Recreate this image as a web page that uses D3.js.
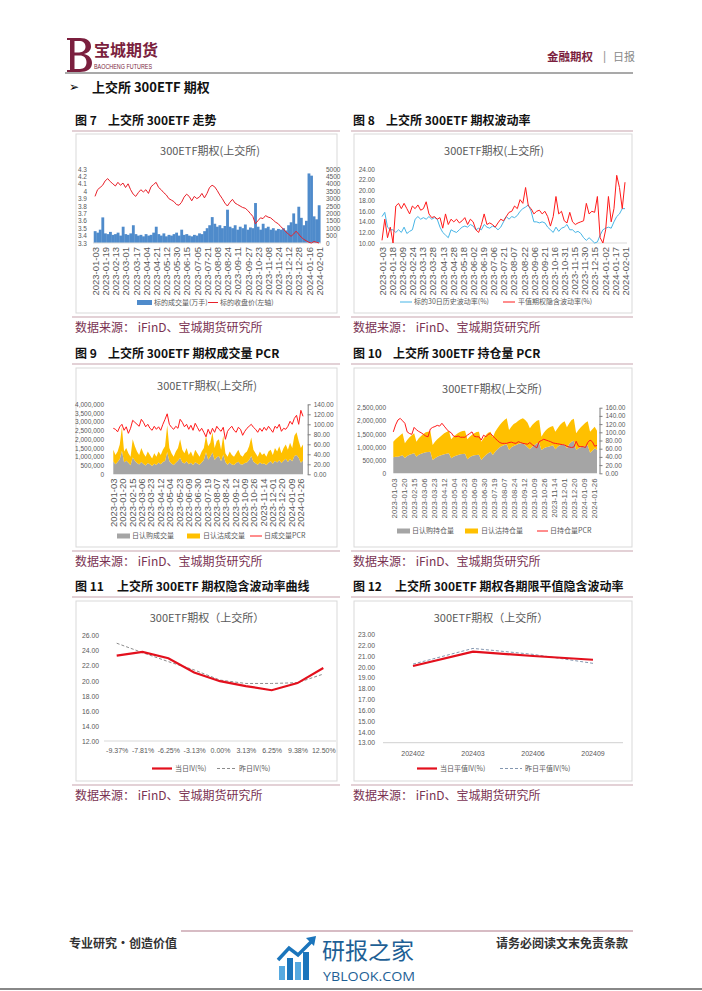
<!DOCTYPE html>
<html><head><meta charset="utf-8">
<script src="https://cdn.jsdelivr.net/npm/d3@7/dist/d3.min.js"></script>
<style>html,body{margin:0;padding:0;background:#fff}svg{display:block}</style>
</head><body>
<svg id="page" width="702" height="991"></svg>
<script>
// ---------------- DATA ----------------
const TOTAL_DAYS = 264; // trading days 2023-01-03 .. 2024-02-01 (daily series sampled every 3rd day)

// Fig 7
const c7Dates = ["2023-01-03","2023-01-19","2023-02-13","2023-03-01","2023-03-17","2023-04-04","2023-04-21","2023-05-12","2023-05-30","2023-06-15","2023-07-05","2023-07-21","2023-08-08","2023-08-24","2023-09-11","2023-09-27","2023-10-23","2023-11-08","2023-11-24","2023-12-12","2023-12-28","2024-01-16","2024-02-01"];
const c7DateStep = 12;
const c7LeftTicks = [3.3,3.4,3.5,3.6,3.7,3.8,3.9,4,4.1,4.2,4.3];
const c7RightTicks = [0,500,1000,1500,2000,2500,3000,3500,4000,4500,5000];
const c7Volume = [800,700,900,1730,650,600,750,550,600,700,
 500,1100,600,550,650,1200,600,500,550,450,
 600,500,550,700,1100,600,500,650,450,550,
 500,600,700,500,900,550,600,500,450,550,
 500,650,600,800,1000,1200,1750,1300,1100,1200,
 1000,1150,2250,1100,1000,1200,900,1100,1000,1250,
 900,1050,1000,2700,1100,900,1300,1000,1100,900,
 1000,850,950,900,1000,850,1200,1400,2000,1300,
 2450,1700,1200,1500,4700,4550,1800,1600,2550];
const c7Close = [3.93,4.02,4.05,4.08,4.14,4.17,4.13,4.10,4.07,4.12,
 4.08,4.11,4.05,4.10,4.02,3.96,3.93,3.98,4.02,3.99,
 4.02,3.97,4.06,4.09,4.12,4.05,4.02,3.98,3.95,3.90,
 3.88,3.86,3.82,3.81,3.85,3.92,3.96,3.93,3.87,3.93,
 3.90,3.92,3.97,3.91,3.97,4.05,4.08,4.06,4.01,3.95,
 3.90,3.84,3.80,3.85,3.89,3.84,3.82,3.80,3.78,3.77,
 3.74,3.70,3.66,3.56,3.60,3.64,3.63,3.67,3.65,3.64,
 3.61,3.58,3.56,3.52,3.49,3.45,3.42,3.39,3.42,3.46,
 3.42,3.38,3.35,3.33,3.31,3.30,3.32,3.31,3.30];

// Fig 8
const c8Dates = ["2023-01-03","2023-01-18","2023-02-09","2023-02-24","2023-03-13","2023-03-28","2023-04-13","2023-04-28","2023-05-18","2023-06-02","2023-06-19","2023-07-06","2023-07-21","2023-08-07","2023-08-22","2023-09-06","2023-09-21","2023-10-16","2023-10-31","2023-11-15","2023-11-30","2023-12-15","2024-01-02","2024-01-17","2024-02-01"];
const c8DateStep = 11;
const c8Ticks = [10,12,14,16,18,20,22,24];
const c8HV = [15.0,15.8,13.0,12.5,12.5,12.0,12.5,12.0,13.0,11.8,
 12.2,12.5,14.5,15.0,14.5,14.8,14.5,15.0,14.5,14.8,
 14.5,13.0,12.0,11.5,11.0,12.5,12.2,12.0,12.5,13.0,
 13.2,13.0,13.5,13.2,12.5,12.8,12.5,13.5,13.0,12.8,
 13.2,13.0,12.5,13.0,14.0,15.0,14.5,15.0,14.8,15.2,
 16.0,16.5,16.8,17.2,16.0,14.0,14.0,13.8,14.0,13.8,
 13.0,12.5,12.0,13.0,12.2,12.8,13.0,13.5,12.5,12.5,
 12.0,12.2,11.8,11.0,10.5,11.0,10.5,10.0,10.2,11.5,
 12.5,12.8,13.0,12.8,14.0,15.0,15.5,16.5,16.5];
const c8IV = [10.5,14.5,11.0,13.0,10.0,17.0,17.5,16.5,17.5,16.5,
 15.5,17.0,16.5,17.2,16.2,16.5,17.8,15.5,14.8,15.0,
 14.5,14.8,12.8,15.5,13.5,14.5,14.0,14.5,13.8,14.2,
 14.8,13.5,14.5,14.0,12.5,12.0,13.5,15.5,13.5,13.8,
 13.5,13.0,13.8,14.5,14.2,15.0,15.8,16.0,17.0,16.5,
 18.2,17.5,20.5,17.0,16.5,15.5,16.0,16.2,15.5,16.0,
 15.0,13.2,15.0,18.8,15.5,16.0,14.2,13.8,15.8,14.0,
 13.5,13.8,14.0,14.2,17.5,15.5,16.0,15.8,18.8,11.0,
 10.0,12.5,18.8,14.0,16.5,22.8,20.5,16.5,21.5];

// Fig 9 (volumes in thousands of contracts)
const c9Dates = ["2023-01-03","2023-01-20","2023-02-15","2023-03-06","2023-03-23","2023-04-12","2023-05-04","2023-05-23","2023-06-09","2023-06-30","2023-07-19","2023-08-07","2023-08-24","2023-09-12","2023-10-09","2023-10-26","2023-11-14","2023-12-01","2023-12-20","2024-01-09","2024-01-26"];
const c9DateStep = 13;
const c9LeftTicks = [0,500000,1000000,1500000,2000000,2500000,3000000,3500000,4000000];
const c9RightTicks = [0,20,40,60,80,100,120,140];
const c9CallK = [730,580,700,870,1350,690,770,660,520,960,
 780,650,560,710,590,510,650,570,480,610,
 530,670,580,700,760,1270,750,620,530,660,
 780,950,690,620,750,580,660,530,690,620,
 540,680,820,1260,840,1000,1250,820,970,1050,
 750,1130,710,540,680,560,530,650,720,580,
 560,650,680,820,1050,720,630,540,680,590,
 620,530,660,740,600,770,680,800,650,780,
 890,710,870,750,1040,1100,950,660,790];
const c9PutK = [670,520,600,830,1350,610,730,540,480,1040,
 820,650,540,790,610,490,650,530,420,590,
 470,630,520,700,840,1530,750,580,470,640,
 720,1050,710,580,750,520,640,470,710,580,
 460,620,680,940,760,800,1150,680,930,950,
 650,1070,490,460,620,540,470,550,680,520,
 440,550,620,780,1050,680,570,460,620,510,
 580,470,640,660,500,730,620,800,550,720,
 810,690,930,750,1160,1300,950,840,910];
const c9PCR = [92,90,85,95,100,88,95,82,92,108,
 104,100,96,110,104,95,100,92,88,96,
 90,95,88,100,110,121,100,94,90,96,
 92,110,104,95,100,90,98,88,102,94,
 86,92,84,75,90,80,92,84,96,90,
 86,94,70,86,92,96,88,84,94,90,
 78,86,92,96,100,94,90,84,92,86,
 94,88,96,90,84,96,92,100,86,92,
 90,96,106,100,112,118,100,128,116];

// Fig 10 (open interest in thousands of contracts)
const c10Dates = ["2023-01-03","2023-01-20","2023-02-15","2023-03-06","2023-03-23","2023-04-12","2023-05-04","2023-05-23","2023-06-09","2023-06-30","2023-07-19","2023-08-07","2023-08-24","2023-09-12","2023-10-09","2023-10-26","2023-11-14","2023-12-01","2023-12-20","2024-01-09","2024-01-26"];
const c10DateStep = 13;
const c10LeftTicks = [0,500000,1000000,1500000,2000000,2500000];
const c10RightTicks = [0,20,40,60,80,100,120,140,160];
const c10CallK = [609,634,634,660,685,584,660,711,736,761,
 634,711,749,774,800,812,825,508,571,634,
 673,698,723,749,761,571,634,673,698,723,
 736,749,533,609,660,685,698,711,508,609,
 698,761,825,698,825,914,990,1041,1079,1104,
 888,990,1041,1079,1117,1142,1142,1079,990,914,
 1015,1079,1142,1167,888,952,990,1015,1041,1066,
 914,1015,1066,1091,1104,952,1117,1206,1244,888,
 952,990,1015,1041,1066,787,863,952,888];
const c10PutK = [596,661,736,787,838,558,609,659,711,762,
 571,621,672,723,761,774,787,571,634,661,
 697,749,800,825,863,723,762,799,837,863,
 876,875,761,787,812,838,876,875,697,723,
 761,787,761,672,761,799,850,901,951,990,
 762,787,837,850,888,914,952,951,939,799,
 825,850,863,863,508,596,660,711,736,736,
 672,698,774,838,876,799,787,824,837,635,
 698,761,825,888,914,799,812,825,736];
const c10PCR = [101,118,130,134,128,122,101,97,95,112,
 106,102,99,95,91,89,108,112,114,117,
 115,122,115,108,102,99,91,89,91,88,
 88,88,93,97,101,90,89,89,81,93,
 89,95,97,91,85,80,75,73,73,73,
 75,76,74,73,77,75,73,72,71,75,
 70,66,62,77,80,83,81,79,77,74,
 73,72,71,70,69,66,64,63,64,78,
 66,65,65,63,75,81,77,66,68];

// Fig 11
const c11Cats = ["-9.37%","-7.81%","-6.25%","-3.13%","0.00%","3.13%","6.25%","9.38%","12.50%"];
const c11Today = [23.35,23.85,23.0,21.1,19.95,19.3,18.75,19.7,21.7];
const c11Yest = [25.0,23.75,22.55,21.45,20.1,19.65,19.65,19.75,20.9];
const c11Ticks = [12,14,16,18,20,22,24,26];

// Fig 12
const c12Cats = ["202402","202403","202406","202409"];
const c12Today = [20.08,21.4,21.0,20.65];
const c12Yest = [20.25,21.7,21.15,20.32];
const c12Ticks = [13,14,15,16,17,18,19,20,21,22,23];

// ---------------- DRAW ----------------
const CJK = '"Noto Sans CJK SC","Noto Sans",sans-serif';
const NUM = '"Liberation Sans","Noto Sans",sans-serif';
const AX = '#595959';
const MAROON = '#7b1f3e';
const RED = '#ff1a1a';
const svg = d3.select('#page');

function T(g, x, y, s, o = {}) {
  return g.append('text').attr('x', x).attr('y', y).attr('dy', o.dy ?? '0.35em')
    .attr('font-family', o.ff || CJK).attr('font-size', o.fs || 12)
    .attr('font-weight', o.fw || 'normal').attr('fill', o.fill || '#000')
    .attr('text-anchor', o.anchor || 'start').text(s);
}
function hline(g, x1, x2, y, c, w) {
  g.append('line').attr('x1', x1).attr('x2', x2).attr('y1', y).attr('y2', y)
   .attr('stroke', c).attr('stroke-width', w);
}
function styleAxis(sel, fs, ff, keepDomain) {
  sel.attr('font-size', null).attr('font-family', null);
  if (!keepDomain) { sel.select('.domain').remove(); sel.selectAll('.tick line').remove(); }
  else { sel.select('.domain').attr('stroke', '#7f7f7f'); sel.selectAll('.tick line').attr('stroke', '#7f7f7f'); }
  sel.selectAll('text').attr('font-size', fs).attr('font-family', ff).attr('fill', AX);
}
function valueAxisLeft(g, scale, ticks, fmt, xPos, fs) {
  const a = g.append('g').attr('transform', `translate(${xPos},0)`)
    .call(d3.axisLeft(scale).tickValues(ticks).tickFormat(fmt).tickSize(0).tickPadding(0));
  styleAxis(a, fs || 6.5, NUM);
}
function valueAxisRight(g, scale, ticks, fmt, xPos, fs, withLine) {
  const ax = d3.axisRight(scale).tickValues(ticks).tickFormat(fmt);
  if (withLine) ax.tickSizeInner(3).tickSizeOuter(0).tickPadding(3); else ax.tickSize(0).tickPadding(0);
  const a = g.append('g').attr('transform', `translate(${xPos},0)`).call(ax);
  styleAxis(a, fs || 6.5, NUM, withLine);
}
function dateAxis(g, x, labels, step, yTop, fs) {
  const a = g.append('g').attr('transform', `translate(0,${yTop})`)
    .call(d3.axisBottom(x).tickValues(labels.map((d, i) => i * step)).tickFormat((d, i) => labels[i]).tickSize(0));
  styleAxis(a, fs, NUM);
  a.selectAll('text').attr('transform', 'rotate(-90)').attr('text-anchor', 'end')
    .attr('x', 0).attr('y', 0).attr('dy', '0.35em');
}
function legend(g, y, items) {
  items.forEach(it => {
    if (it.type === 'rect') g.append('rect').attr('x', it.x).attr('y', y - 2.5).attr('width', it.w).attr('height', 5).attr('fill', it.color);
    else g.append('line').attr('x1', it.x).attr('x2', it.x + it.w).attr('y1', y).attr('y2', y)
      .attr('stroke', it.color).attr('stroke-width', it.sw || 1).attr('stroke-dasharray', it.dash || null);
    T(g, it.tx, y, it.label, { fs: 7, fill: AX });
  });
}
const dayOf = (i, n) => i * TOTAL_DAYS / (n - 1);

// ---- header ----
const hd = svg.append('g');
// logo mark (stylised "B")
hd.append('path').attr('fill', MAROON).attr('fill-rule', 'evenodd')
  .attr('d', 'M67,38 L80,38 C87,38 91,41 91,46.5 C91,50.5 88,53 84,54 C89,55 92,58.5 92,63 C92,69 87,72 80,72 L67,72 L67,70 L70,70 L70,40 L67,40 Z ' +
             'M74.5,41 L74.5,52.5 L79,52.5 C83,52.5 85.5,50 85.5,46.8 C85.5,43 83,41 79,41 Z ' +
             'M74.5,55.5 L74.5,69 L80,69 C84,69 86.5,66.5 86.5,62.3 C86.5,58 84,55.5 79.5,55.5 Z');
T(hd, 94, 50, '宝城期货', { fs: 16, fw: 'bold', fill: MAROON });
hd.append('text').attr('x', 94).attr('y', 69).attr('font-family', NUM).attr('font-size', 6.5)
  .attr('fill', MAROON).attr('textLength', 58).attr('lengthAdjust', 'spacingAndGlyphs').text('BAOCHENG FUTURES');
T(hd, 547, 57, '金融期权', { fs: 11.5, fw: 'bold', fill: MAROON });
T(hd, 603, 56, '|', { ff: NUM, fs: 12, fill: '#999' });
T(hd, 613, 57, '日报', { fs: 11, fill: '#888' });
hline(hd, 65, 633, 73, '#555', 1.2);
T(hd, 69, 87, '➢', { ff: '"DejaVu Sans",sans-serif', fs: 12, fill: '#000' });
T(hd, 92, 87, '上交所 300ETF 期权', { fs: 13, fw: 'bold', fill: '#111' });

// ---- panel frames ----
const cols = [{ l: 72, r: 340, bl: 76, br: 337, tx: 75 }, { l: 351, r: 633, bl: 354, br: 632, tx: 353 }];
const rows = [{ title: 121, ul: 131, bt: 134, bb: 313, sl: 317, src: 328 },
              { title: 354, ul: 364, bt: 368, bb: 547, sl: 551, src: 562 },
              { title: 587, ul: 597, bt: 601, bb: 781, sl: 785, src: 796 }];
const figs = [
  { c: 0, r: 0, fig: '图 7', name: '上交所 300ETF 走势', nx: 108 },
  { c: 1, r: 0, fig: '图 8', name: '上交所 300ETF 期权波动率', nx: 386 },
  { c: 0, r: 1, fig: '图 9', name: '上交所 300ETF 期权成交量 PCR', nx: 108 },
  { c: 1, r: 1, fig: '图 10', name: '上交所 300ETF 持仓量 PCR', nx: 393 },
  { c: 0, r: 2, fig: '图 11', name: '上交所 300ETF 期权隐含波动率曲线', nx: 117 },
  { c: 1, r: 2, fig: '图 12', name: '上交所 300ETF 期权各期限平值隐含波动率', nx: 395 }];
const fr = svg.append('g');
figs.forEach(f => {
  const c = cols[f.c], r = rows[f.r];
  T(fr, c.tx, r.title, f.fig, { fs: 12, fw: 'bold', fill: '#111' });
  T(fr, f.nx, r.title, f.name, { fs: 12, fw: 'bold', fill: '#111' });
  hline(fr, c.l, c.r, r.ul, '#c7a3ae', 1.2);
  fr.append('rect').attr('x', c.bl).attr('y', r.bt).attr('width', c.br - c.bl).attr('height', r.bb - r.bt)
    .attr('fill', '#fff').attr('stroke', '#d9d9d9').attr('stroke-width', 1);
  hline(fr, c.l, c.r, r.sl, '#c7a3ae', 1.2);
  T(fr, c.tx, r.src, '数据来源：  iFinD、宝城期货研究所', { fs: 12, fill: '#7a3252' });
});

// ---- Fig 7 ----
(function () {
  const g = svg.append('g');
  T(g, 210, 151, '300ETF期权(上交所)', { fs: 11, fill: AX, anchor: 'middle' });
  const x = d3.scaleLinear().domain([0, TOTAL_DAYS]).range([95, 319]);
  const yL = d3.scaleLinear().domain([3.3, 4.3]).range([243, 169]);
  const yR = d3.scaleLinear().domain([0, 5000]).range([243, 169]);
  const n = c7Volume.length, bw = (x(TOTAL_DAYS) - x(0)) / (n - 1);
  g.append('g').selectAll('rect').data(c7Volume).join('rect')
    .attr('x', (d, i) => x(dayOf(i, n)) - bw / 2).attr('width', bw + 0.3)
    .attr('y', d => yR(d)).attr('height', d => yR(0) - yR(d)).attr('fill', '#4f8bcb');
  hline(g, 93, 321, 243, '#d9d9d9', 1);
  g.append('path').datum(c7Close)
    .attr('d', d3.line().x((d, i) => x(dayOf(i, c7Close.length))).y(d => yL(d)))
    .attr('fill', 'none').attr('stroke', '#e8202a').attr('stroke-width', 1);
  valueAxisLeft(g, yL, c7LeftTicks, d => String(d), 87);
  valueAxisRight(g, yR, c7RightTicks, d => String(d), 326);
  dateAxis(g, x, c7Dates, c7DateStep, 247, 9.5);
  legend(g, 302.5, [
    { type: 'rect', x: 137, w: 15, color: '#4f8bcb', tx: 154, label: '标的成交量(万手)' },
    { type: 'line', x: 208, w: 10, color: '#e8202a', tx: 220, label: '标的收盘价(左轴)' }]);
})();

// ---- Fig 8 ----
(function () {
  const g = svg.append('g');
  T(g, 494, 151, '300ETF期权(上交所)', { fs: 11, fill: AX, anchor: 'middle' });
  const x = d3.scaleLinear().domain([0, TOTAL_DAYS]).range([382, 625]);
  const y = d3.scaleLinear().domain([10, 24]).range([243, 169]);
  hline(g, 380, 627, 243, '#d9d9d9', 1);
  const line = arr => d3.line().x((d, i) => x(dayOf(i, arr.length))).y(d => y(d))(arr);
  g.append('path').attr('d', line(c8HV)).attr('fill', 'none').attr('stroke', '#47b5e6').attr('stroke-width', 1);
  g.append('path').attr('d', line(c8IV)).attr('fill', 'none').attr('stroke', RED).attr('stroke-width', 1);
  valueAxisLeft(g, y, c8Ticks, d3.format('.2f'), 375);
  dateAxis(g, x, c8Dates, c8DateStep, 247, 9.5);
  legend(g, 302, [
    { type: 'line', x: 400, w: 12, color: '#47b5e6', tx: 414, label: '标的30日历史波动率(%)' },
    { type: 'line', x: 503, w: 12, color: RED, tx: 518, label: '平值期权隐含波动率(%)' }]);
})();

// ---- stacked area + PCR helper (Fig 9 / Fig 10) ----
function stackedPanel(o) {
  const g = svg.append('g');
  T(g, o.titleX, o.titleY, '300ETF期权(上交所)', { fs: 11, fill: AX, anchor: 'middle' });
  const x = d3.scaleLinear().domain([0, TOTAL_DAYS]).range(o.xr);
  const yL = d3.scaleLinear().domain([0, o.leftMax]).range(o.yr);
  const yR = d3.scaleLinear().domain([0, o.rightMax]).range(o.yr);
  const n = o.call.length;
  const rowsData = o.call.map((c, i) => ({ i, call: c * 1000, put: o.put[i] * 1000 }));
  const stack = d3.stack().keys(['call', 'put'])(rowsData);
  const area = d3.area().x(d => x(dayOf(d.data.i, n))).y0(d => yL(d[0])).y1(d => yL(d[1]));
  g.append('path').attr('d', area(stack[0])).attr('fill', '#a5a5a5');
  g.append('path').attr('d', area(stack[1])).attr('fill', '#ffc000');
  g.append('path').datum(o.pcr)
    .attr('d', d3.line().x((d, i) => x(dayOf(i, n))).y(d => yR(d)))
    .attr('fill', 'none').attr('stroke', RED).attr('stroke-width', 1);
  valueAxisLeft(g, yL, o.leftTicks, d3.format(','), o.leftX);
  valueAxisRight(g, yR, o.rightTicks, d3.format('.2f'), o.rightX, 6.5, true);
  dateAxis(g, x, o.dates, o.step, o.dateTop, o.dateFs);
  legend(g, o.legY, o.legend);
}
stackedPanel({
  titleX: 207, titleY: 386, xr: [113.3, 303], yr: [474.3, 404.3], leftMax: 4000000, rightMax: 140,
  call: c9CallK, put: c9PutK, pcr: c9PCR, leftTicks: c9LeftTicks, rightTicks: c9RightTicks,
  leftX: 104, rightX: 307.7, dates: c9Dates, step: c9DateStep, dateTop: 478.5, dateFs: 9.5, legY: 536,
  legend: [
    { type: 'rect', x: 117, w: 13, color: '#a5a5a5', tx: 132, label: '日认购成交量' },
    { type: 'rect', x: 187, w: 13, color: '#ffc000', tx: 203, label: '日认沽成交量' },
    { type: 'line', x: 250, w: 12, color: RED, tx: 264, label: '日成交量PCR' }]
});
stackedPanel({
  titleX: 492, titleY: 389, xr: [393.3, 597], yr: [473.3, 407.7], leftMax: 2500000, rightMax: 160,
  call: c10CallK, put: c10PutK, pcr: c10PCR, leftTicks: c10LeftTicks, rightTicks: c10RightTicks,
  leftX: 386, rightX: 599.5, dates: c10Dates, step: c10DateStep, dateTop: 478.5, dateFs: 7.8, legY: 531,
  legend: [
    { type: 'rect', x: 397, w: 13, color: '#a5a5a5', tx: 412, label: '日认购持仓量' },
    { type: 'rect', x: 465, w: 13, color: '#ffc000', tx: 481, label: '日认沽持仓量' },
    { type: 'line', x: 537, w: 11, color: RED, tx: 550, label: '日持仓量PCR' }]
});

// ---- Fig 11 ----
(function () {
  const g = svg.append('g');
  T(g, 207, 618, '300ETF期权（上交所）', { fs: 11, fill: AX, anchor: 'middle' });
  const x = d3.scalePoint().domain(c11Cats).range([116.7, 323.3]);
  const y = d3.scaleLinear().domain([12, 26]).range([741, 635.7]);
  hline(g, 104, 336, 741, '#d9d9d9', 1);
  const line = d3.line().x((d, i) => x(c11Cats[i])).y(d => y(d));
  g.append('path').attr('d', line(c11Yest)).attr('fill', 'none').attr('stroke', '#8c8c8c').attr('stroke-width', 1).attr('stroke-dasharray', '3,2');
  g.append('path').attr('d', line(c11Today)).attr('fill', 'none').attr('stroke', '#e3101d').attr('stroke-width', 2.2);
  valueAxisLeft(g, y, c11Ticks, d3.format('.2f'), 99, 6.8);
  const a = g.append('g').attr('transform', 'translate(0,741)').call(d3.axisBottom(x).tickSize(0).tickPadding(7));
  styleAxis(a, 7, NUM);
  legend(g, 768.5, [
    { type: 'line', x: 152, w: 20, color: '#e3101d', sw: 2.2, tx: 175, label: '当日IV(%)' },
    { type: 'line', x: 217, w: 20, color: '#8c8c8c', dash: '3,2', tx: 239, label: '昨日IV(%)' }]);
})();

// ---- Fig 12 ----
(function () {
  const g = svg.append('g');
  T(g, 491, 618, '300ETF期权（上交所）', { fs: 11, fill: AX, anchor: 'middle' });
  const x = d3.scaleBand().domain(c12Cats).range([383, 623]);
  const cx = c => x(c) + x.bandwidth() / 2;
  const y = d3.scaleLinear().domain([13, 23]).range([742.7, 634.3]);
  hline(g, 383, 623, 742.7, '#d0d0d0', 1);
  const line = d3.line().x((d, i) => cx(c12Cats[i])).y(d => y(d));
  g.append('path').attr('d', line(c12Yest)).attr('fill', 'none').attr('stroke', '#8497b0').attr('stroke-width', 1).attr('stroke-dasharray', '3,2');
  g.append('path').attr('d', line(c12Today)).attr('fill', 'none').attr('stroke', '#e3101d').attr('stroke-width', 2.2);
  valueAxisLeft(g, y, c12Ticks, d3.format('.2f'), 375, 6.8);
  const a = g.append('g').attr('transform', 'translate(0,742.7)').call(d3.axisBottom(x).tickSize(0).tickPadding(8));
  styleAxis(a, 7, NUM);
  legend(g, 768.5, [
    { type: 'line', x: 417, w: 20, color: '#e3101d', sw: 2.2, tx: 440, label: '当日平值IV(%)' },
    { type: 'line', x: 500, w: 22, color: '#8497b0', dash: '3,2', tx: 525, label: '昨日平值IV(%)' }]);
})();

// ---- footer ----
const ft = svg.append('g');
hline(ft, 181, 633, 931, '#b07a8a', 1.2);
T(ft, 69, 944, '专业研究·创造价值', { fs: 12, fw: 'bold', fill: '#333' });
T(ft, 628, 944, '请务必阅读文末免责条款', { fs: 12, fw: 'bold', fill: '#333', anchor: 'end' });
// watermark
const wm = ft.append('g');
[[279, 966, 6, 14], [287, 958, 6, 22], [295, 962, 6, 18], [303, 952, 6, 28]].forEach((b, i) =>
  wm.append('rect').attr('x', b[0]).attr('y', b[1]).attr('width', b[2]).attr('height', b[3]).attr('fill', i % 2 ? '#1b75bc' : '#56a9e0'));
wm.append('polyline').attr('points', '278,960 289,948 298,955 313,940').attr('fill', 'none').attr('stroke', '#1b75bc').attr('stroke-width', 3.5);
wm.append('path').attr('d', 'M306,938 L316,936 L314,946 Z').attr('fill', '#1b75bc');
T(wm, 322, 951, '研报之家', { fs: 23, fill: '#1e5f95' });
wm.append('text').attr('x', 323).attr('y', 981).attr('font-family', '"Open Sans",sans-serif').attr('font-size', 13)
  .attr('fill', '#1e5f95').attr('textLength', 92).attr('lengthAdjust', 'spacingAndGlyphs').text('YBLOOK.COM');
hline(ft, 0, 702, 989, '#888', 2);
</script>
</body></html>
